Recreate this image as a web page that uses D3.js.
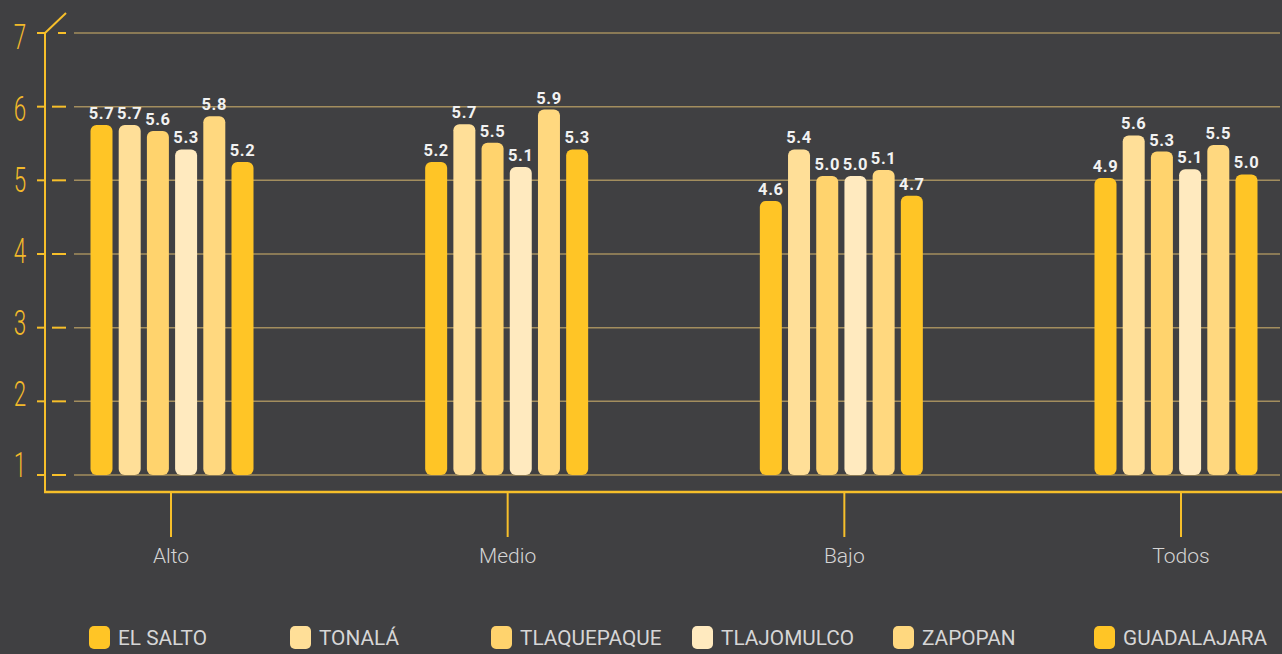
<!DOCTYPE html>
<html lang="es">
  <head>
    <meta charset="utf-8">
    <title>Índice por nivel</title>
    <script src="https://d3js.org/d3.v7.min.js"></script>
    <style>
      html, body {
        margin: 0;
        padding: 0;
        background: #404042;
      }
      svg {
        display: block;
      }
    </style>
  </head>
  <body>
    <div id="chart"></div>
    <script>
      // data
      var groups = ["Alto", "Medio", "Bajo", "Todos"];
      var cities = ["EL SALTO", "TONALÁ", "TLAQUEPAQUE", "TLAJOMULCO", "ZAPOPAN", "GUADALAJARA"];
      var cityColors = ["#ffc526", "#ffdf98", "#ffd36d", "#ffeabf", "#ffd87f", "#ffc526"];
      var yTicks = [1, 2, 3, 4, 5, 6, 7];

      // bar heights (as drawn) per city, in group order
      var elSalto = [5.75, 5.25, 4.72, 5.03];
      var tonala = [5.75, 5.76, 5.42, 5.61];
      var tlaquepaque = [5.67, 5.51, 5.06, 5.39];
      var tlajomulco = [5.42, 5.18, 5.06, 5.15];
      var zapopan = [5.87, 5.96, 5.14, 5.48];
      var guadalajara = [5.25, 5.42, 4.79, 5.08];

      // value labels as printed above the bars
      var elSaltoLabels = ["5.7", "5.2", "4.6", "4.9"];
      var tonalaLabels = ["5.7", "5.7", "5.4", "5.6"];
      var tlaquepaqueLabels = ["5.6", "5.5", "5.0", "5.3"];
      var tlajomulcoLabels = ["5.3", "5.1", "5.0", "5.1"];
      var zapopanLabels = ["5.8", "5.9", "5.1", "5.5"];
      var guadalajaraLabels = ["5.2", "5.3", "4.7", "5.0"];

      var series = [elSalto, tonala, tlaquepaque, tlajomulco, zapopan, guadalajara];
      var labels = [elSaltoLabels, tonalaLabels, tlaquepaqueLabels, tlajomulcoLabels, zapopanLabels, guadalajaraLabels];

      var W = 1282, H = 654;
      var axisColor = "#f7bf2a";
      var gridColor = "#a38e5e";

      var svg = d3.select("#chart").append("svg")
        .attr("width", W)
        .attr("height", H);

      var y = d3.scaleLinear().domain([1, 7]).range([475, 33]);
      var yLabel = d3.scaleLinear().domain([1, 7]).range([465.5, 37.5]); // labels drift up from their ticks
      var x = d3.scalePoint().domain(groups).range([172, 1176]);
      var xTick = d3.scalePoint().domain(groups).range([171, 1181]);
      var xInner = d3.scaleBand().domain(cities).range([-81.5, 81.5]).paddingInner(0.22);
      var color = d3.scaleOrdinal().domain(cities).range(cityColors);
      var legendX = d3.scalePoint().domain(cities).range([89, 1094]);

      var axisX = 45, axisBottom = 492;

      // gridlines
      svg.append("g").selectAll("line").data(yTicks).enter().append("line")
        .attr("x1", 74).attr("x2", 1280)
        .attr("y1", function(d) { return y(d); })
        .attr("y2", function(d) { return y(d); })
        .attr("stroke", gridColor)
        .attr("stroke-width", 1.5);

      // y ticks: short stub left of axis + dash to the right
      var ticks = svg.append("g").selectAll("g").data(yTicks).enter().append("g");
      ticks.append("line")
        .attr("x1", 37).attr("x2", axisX)
        .attr("y1", function(d) { return y(d); })
        .attr("y2", function(d) { return y(d); })
        .attr("stroke", axisColor).attr("stroke-width", 2);
      ticks.append("line")
        .attr("x1", function(d) { return d === 7 ? 58 : 52; }).attr("x2", 66)
        .attr("y1", function(d) { return y(d); })
        .attr("y2", function(d) { return y(d); })
        .attr("stroke", axisColor).attr("stroke-width", 2);
      ticks.append("text")
        .attr("transform", function(d) { return "translate(20," + yLabel(d) + ") scale(0.64,1)"; })
        .attr("text-anchor", "middle")
        .attr("dominant-baseline", "central")
        .attr("font-family", "Roboto, sans-serif")
        .attr("font-weight", 300)
        .attr("font-size", 35)
        .attr("fill", "#f2b92a")
        .text(function(d) { return d; });

      // axis frame
      svg.append("line")
        .attr("x1", axisX).attr("x2", axisX)
        .attr("y1", y(7)).attr("y2", axisBottom + 1)
        .attr("stroke", axisColor).attr("stroke-width", 2);
      svg.append("line")
        .attr("x1", axisX).attr("x2", 66)
        .attr("y1", y(7)).attr("y2", 13)
        .attr("stroke", axisColor).attr("stroke-width", 2);
      svg.append("line")
        .attr("x1", axisX - 1).attr("x2", W)
        .attr("y1", axisBottom).attr("y2", axisBottom)
        .attr("stroke", axisColor).attr("stroke-width", 2.5);

      // x ticks and category labels
      var xt = svg.append("g").selectAll("g").data(groups).enter().append("g")
        .attr("transform", function(d) { return "translate(" + xTick(d) + ",0)"; });
      xt.append("line")
        .attr("y1", axisBottom).attr("y2", 537)
        .attr("stroke", axisColor).attr("stroke-width", 2);
      xt.append("text")
        .attr("y", 563)
        .attr("text-anchor", "middle")
        .attr("font-family", "Roboto, sans-serif")
        .attr("font-weight", 300)
        .attr("font-size", 21)
        .attr("fill", "#d4d4d4")
        .text(function(d) { return d; });

      // bars
      var cityG = svg.append("g").selectAll("g").data(cities).enter().append("g");
      cityG.selectAll("rect").data(function(c, ci) {
          return groups.map(function(g, gi) { return {city: c, group: g, value: series[ci][gi], label: labels[ci][gi]}; });
        }).enter().append("rect")
        .attr("x", function(d) { return x(d.group) + xInner(d.city); })
        .attr("y", function(d) { return y(d.value); })
        .attr("width", xInner.bandwidth())
        .attr("height", function(d) { return y(1) - y(d.value); })
        .attr("rx", 6)
        .attr("fill", function(d) { return color(d.city); });
      cityG.selectAll("text").data(function(c, ci) {
          return groups.map(function(g, gi) { return {city: c, group: g, value: series[ci][gi], label: labels[ci][gi]}; });
        }).enter().append("text")
        .attr("x", function(d) { return x(d.group) + xInner(d.city) + xInner.bandwidth() / 2; })
        .attr("y", function(d) { return y(d.value) - 6; })
        .attr("text-anchor", "middle")
        .attr("font-family", "Roboto, sans-serif")
        .attr("font-weight", 700)
        .attr("font-size", 16.5)
        .attr("letter-spacing", 0.6)
        .attr("fill", "#f2f2f2")
        .text(function(d) { return d.label; });

      // legend
      var legend = svg.append("g").selectAll("g").data(cities).enter().append("g")
        .attr("transform", function(d) { return "translate(" + legendX(d) + ",638)"; });
      legend.append("rect")
        .attr("x", 0).attr("y", -12)
        .attr("width", 21).attr("height", 23)
        .attr("rx", 5)
        .attr("fill", function(d) { return color(d); });
      legend.append("text")
        .attr("x", 29)
        .attr("y", 7)
        .attr("font-family", "Roboto, sans-serif")
        .attr("font-size", 20.8)
        .attr("fill", "#d6d6d6")
        .text(function(d) { return d; });
    </script>
  </body>
</html>
